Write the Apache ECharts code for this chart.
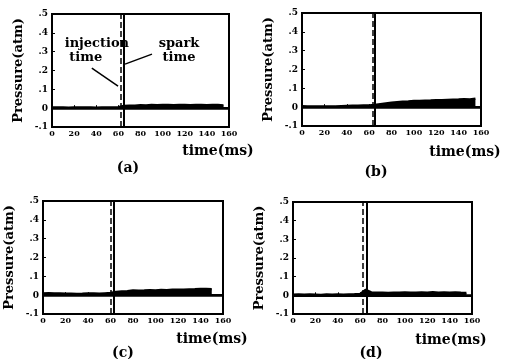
<!DOCTYPE html>
<html>
<head>
<meta charset="utf-8">
<title>Pressure traces</title>
<script src="https://cdn.jsdelivr.net/npm/echarts@6/dist/echarts.min.js"></script>
</head>
<body style="margin:0;background:#fff">
<div id="main" style="width:505px;height:359px;"></div>
<script>
// time base (ms) shared by the four traces
var times = [0,5,10,15,20,25,30,35,40,45,50,55,60,65,70,75,80,85,90,95,100,105,110,115,120,125,130,135,140,145,150,155];

// upper edge of each pressure trace (atm)
var traceA = [0.004,0.005,0.004,0.003,0.005,0.004,0.004,0.005,0.003,0.004,0.005,0.004,0.006,
              0.012,0.014,0.013,0.016,0.015,0.017,0.016,0.018,0.017,0.016,0.018,0.017,0.016,0.018,0.017,0.016,0.018,0.017,0.015];
var traceB = [0.006,0.005,0.004,0.004,0.005,0.004,0.005,0.006,0.007,0.008,0.008,0.009,0.010,
              0.012,0.016,0.020,0.024,0.027,0.030,0.031,0.033,0.034,0.035,0.036,0.038,0.037,0.039,0.040,0.041,0.043,0.042,0.045];
var traceC = [0.010,0.011,0.010,0.009,0.008,0.008,0.007,0.008,0.010,0.009,0.008,0.010,0.012,
              0.018,0.020,0.022,0.026,0.024,0.025,0.027,0.026,0.028,0.027,0.029,0.030,0.029,0.031,0.032,0.034,0.033,0.032,null];
var traceD = [0.004,0.005,0.004,0.005,0.004,0.003,0.005,0.004,0.005,0.004,0.005,0.006,0.008,
              0.030,0.016,0.014,0.015,0.013,0.015,0.014,0.016,0.015,0.014,0.016,0.015,0.017,0.015,0.016,0.015,0.016,0.014,0.013];

var traces = [traceA, traceB, traceC, traceD];
var injectionTime = [62, 63, 60.5, 62.4];
var sparkTime = [64.5, 65.2, 63.2, 66];
var panelNames = ['(a)', '(b)', '(c)', '(d)'];

var grids = [
    {left: 52, top: 14, width: 177, height: 113},
    {left: 302, top: 13, width: 179, height: 113},
    {left: 43, top: 201, width: 180, height: 113},
    {left: 293, top: 202, width: 179, height: 112}
];
// where "time(ms)" and the panel letter sit
var xNamePos = [[218, 151], [465, 152], [212, 339], [451, 340]];
var letterPos = [[128, 168], [376, 172], [123, 353], [371, 353]];

var font = "'DejaVu Serif', serif";

var chart = echarts.init(document.getElementById('main'));

function yLabel(v) {
    if (v === 0) return '0';
    return String(+v.toFixed(1)).replace('0.', '.');
}

var option = {
    animation: false,
    backgroundColor: '#fff',
    grid: [],
    xAxis: [],
    yAxis: [],
    series: [],
    graphic: []
};

for (var i = 0; i < 4; i++) {
    var g = grids[i];
    option.grid.push({
        left: g.left, top: g.top, width: g.width, height: g.height,
        show: true, borderColor: '#000', borderWidth: 2, backgroundColor: '#fff'
    });
    option.xAxis.push({
        gridIndex: i, type: 'value', min: 0, max: 160, interval: 20,
        splitLine: {show: false},
        axisLine: {lineStyle: {color: '#000', width: 2}},
        axisTick: {inside: true, length: 3, lineStyle: {color: '#000'}},
        axisLabel: {color: '#000', fontSize: 8, fontWeight: 'bold', fontFamily: font, margin: 3}
    });
    option.yAxis.push({
        gridIndex: i, type: 'value', min: -0.1, max: 0.5, interval: 0.1,
        name: 'Pressure(atm)', nameLocation: 'middle', nameGap: 27,
        nameTextStyle: {color: '#000', fontSize: 13, fontWeight: 'bold', fontFamily: font},
        splitLine: {show: false},
        axisLine: {onZero: false, lineStyle: {color: '#000', width: 2}},
        axisTick: {inside: true, length: 3, lineStyle: {color: '#000'}},
        axisLabel: {color: '#000', fontSize: 9, fontWeight: 'bold', fontFamily: font, margin: 4, formatter: yLabel}
    });

    var lines = [
        {yAxis: 0, lineStyle: {type: 'solid', width: 2.5}},
        {xAxis: injectionTime[i], lineStyle: {type: 'dashed', width: 1.5}},
        {xAxis: sparkTime[i], lineStyle: {type: 'solid', width: 2}}
    ];
    var points = [];
    if (i === 0) {
        // leader lines for the annotations
        lines.push([{coord: [36, 0.213]}, {coord: [59.7, 0.117]}]);
        lines.push([{coord: [66, 0.234]}, {coord: [90.4, 0.287]}]);
        points.push({coord: [11.5, 0.303], label: {show: true, position: 'right', distance: 0, align: 'left',
            formatter: 'injection\n time'}});
        points.push({coord: [114.8, 0.303], label: {show: true, position: 'inside', align: 'center',
            formatter: 'spark\ntime'}});
    }

    option.series.push({
        type: 'line',
        xAxisIndex: i, yAxisIndex: i,
        data: times.map(function (t, k) { return [t, traces[i][k]]; }),
        showSymbol: false,
        connectNulls: false,
        lineStyle: {color: '#000', width: 2.2},
        itemStyle: {color: '#000'},
        areaStyle: {color: '#000', opacity: 1},
        markLine: {
            silent: true, symbol: 'none',
            label: {show: false},
            lineStyle: {color: '#000', width: 1.5, type: 'solid'},
            data: lines
        },
        markPoint: {
            silent: true, symbol: 'circle', symbolSize: 0,
            label: {color: '#000', fontSize: 13, fontWeight: 'bold', fontFamily: font, lineHeight: 14},
            data: points
        }
    });

    option.graphic.push({
        type: 'text', x: xNamePos[i][0], y: xNamePos[i][1],
        style: {text: 'time(ms)', fill: '#000', font: 'bold 14px ' + font,
            textAlign: 'center', textVerticalAlign: 'middle'}
    });
    option.graphic.push({
        type: 'text', x: letterPos[i][0], y: letterPos[i][1],
        style: {text: panelNames[i], fill: '#000', font: 'bold 14px ' + font,
            textAlign: 'center', textVerticalAlign: 'middle'}
    });
}

chart.setOption(option);
</script>
</body>
</html>
